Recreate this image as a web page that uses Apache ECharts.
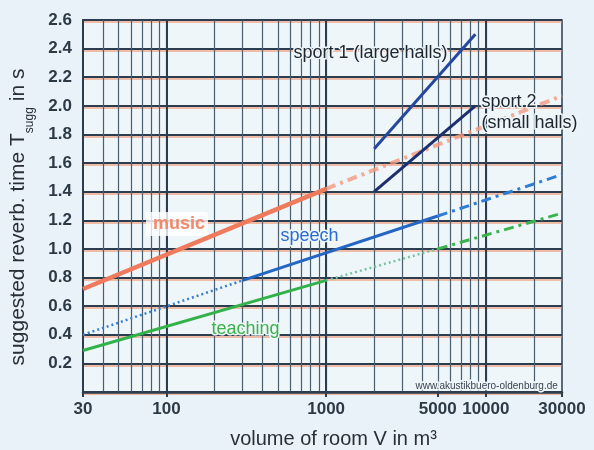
<!DOCTYPE html>
<html><head><meta charset="utf-8">
<script src="https://cdn.jsdelivr.net/npm/echarts@6/dist/echarts.min.js"></script>
<style>html,body{margin:0;padding:0;background:#e8f2f8}#c{width:594px;height:450px}</style>
</head><body><div id="c"></div>
<script>
// ---- data ----
const xGridValues = [40,50,60,70,80,90,100,200,300,400,500,600,700,800,900,1000,2000,3000,4000,5000,6000,7000,8000,9000,10000,20000];
const xMajorValues = [100,1000,10000];
const xLabelValues = [30,100,1000,5000,10000,30000];
const xTickValues = [30,100,1000,5000,10000,30000];

const musicSolid = [[30,0.72],[1000,1.42]];
const musicDashed = [[1000,1.42],[30000,2.07]];
const speechDotted = [[30,0.40],[300,0.78]];
const speechSolid = [[300,0.78],[5000,1.23]];
const speechDashDot = [[5000,1.23],[30000,1.52]];
const teachingSolid = [[30,0.29],[1000,0.78]];
const teachingDotted = [[1000,0.78],[5000,1.00]];
const teachingDashDot = [[5000,1.00],[30000,1.25]];
const sport1 = [[2000,1.70],[8600,2.50]];
const sport2 = [[2000,1.40],[8600,2.00]];

const FONT = '"Liberation Sans", Arial, sans-serif';
const GRID_COL = '#2b3d4f';
const TXT = '#2a2f35';
const HALO = '#eef6fa';
const chart = echarts.init(document.getElementById('c'), null, {renderer:'canvas'});

function line(data, color, width, type, opacity) {
  return {type:'line', data:data, symbol:'none', silent:true, animation:false,
    xAxisIndex:0, yAxisIndex:0,
    lineStyle:{color:color, width:width, type:type, opacity: opacity==null?1:opacity, cap:'butt'}};
}
function label(text, left, top, font, fill, halo) {
  const st = {text:text, font:font, fill:fill};
  if (halo) { st.stroke = HALO; st.lineWidth = 3; }
  return {type:'text', left:left, top:top, z:100, style:st};
}

const xBase = {type:'log', logBase:10, min:30, max:30000, gridIndex:0, position:'bottom'};

chart.setOption({
  backgroundColor:'#e8f2f8',
  animation:false,
  grid:{left:83, right:32, top:20, bottom:58, show:true, backgroundColor:'#eef6fa',
        borderColor:GRID_COL, borderWidth:1.5, outerBoundsMode:'none', containLabel:false},
  xAxis:[
    Object.assign({}, xBase, {
      name:'volume of room V in m³', nameLocation:'middle', nameGap:37,
      nameTextStyle:{fontFamily:FONT, fontSize:20, color:TXT, padding:[0,0,0,22]},
      axisLine:{show:true, lineStyle:{color:GRID_COL, width:2.5}},
      axisTick:{show:false, customValues:xGridValues},
      splitLine:{show:true, lineStyle:{color:'#4a5e70', width:1.2}},
      axisLabel:{customValues:xLabelValues, margin:9, fontFamily:FONT, fontSize:17, fontWeight:'bold', color:'#2d3a46',
        formatter: v => String(Math.round(v))}
    }),
    Object.assign({}, xBase, {
      axisLine:{show:false}, axisLabel:{show:false},
      axisTick:{show:false, customValues:xMajorValues},
      splitLine:{show:true, lineStyle:{color:GRID_COL, width:2}}
    }),
    Object.assign({}, xBase, {
      axisLine:{show:false}, axisLabel:{show:false}, splitLine:{show:false},
      axisTick:{show:true, inside:false, length:5, customValues:xTickValues, lineStyle:{color:GRID_COL, width:2}}
    })
  ],
  yAxis:{
    type:'value', min:0, max:2.6, interval:0.2,
    name:'{a|suggested reverb. time T}{b|sugg}{a| in s}', nameLocation:'middle', nameGap:47, nameRotate:90,
    nameTextStyle:{padding:[0,22,0,0], rich:{
      a:{fontFamily:FONT, fontSize:21, color:TXT, lineHeight:23, verticalAlign:'top'},
      b:{fontFamily:FONT, fontSize:12, color:TXT, lineHeight:28, verticalAlign:'bottom'}
    }},
    axisLine:{show:true, lineStyle:{color:GRID_COL, width:2}},
    axisTick:{show:false},
    splitLine:{show:true, lineStyle:{color:GRID_COL, width:1.8, shadowColor:'rgba(240,140,100,0.55)', shadowOffsetY:2, shadowBlur:0}},
    axisLabel:{margin:11, fontFamily:FONT, fontSize:17, fontWeight:'bold', color:'#2d3a46',
      formatter: v => v === 0 ? '' : v.toFixed(1)}
  },
  series:[
    line(musicSolid, '#ef7a5c', 4.5, 'solid'),
    line(musicDashed, '#f29a7e', 4, [10,5,3,5], 0.8),
    line(speechDotted, '#3a7fd0', 2.5, [2,3]),
    line(speechSolid, '#2466c4', 3, 'solid'),
    line(speechDashDot, '#2f7ed6', 3, [10,5,3,5]),
    line(teachingSolid, '#34b24a', 3, 'solid'),
    line(teachingDotted, '#7cc2a0', 2.5, [2,3]),
    line(teachingDashDot, '#3cb34c', 3, [10,5,3,5]),
    line(sport1, '#24489e', 3, 'solid'),
    line(sport2, '#1c2f6e', 3, 'solid')
  ],
  graphic:[
    {type:'rect', left:146, top:212, z:99, shape:{width:62, height:24, r:3}, style:{fill:'rgba(255,255,255,0.8)'}},
    label('music', 153, 215, 'bold 18px '+FONT, '#f08a6c', false),
    label('sport 1 (large halls)', 292, 43, '18px '+FONT, '#1e2630', true),
    label('sport 2', 480, 92, '18px '+FONT, '#1e2630', true),
    label('(small halls)', 480, 113, '18px '+FONT, '#1e2630', true),
    label('speech', 279, 226, '18px '+FONT, '#2a6ccc', true),
    label('teaching', 210, 319, '18px '+FONT, '#3cb24a', true),
    label('www.akustikbuero-oldenburg.de', 414, 380, '10px '+FONT, '#3a4450', true)
  ]
});
</script></body></html>
